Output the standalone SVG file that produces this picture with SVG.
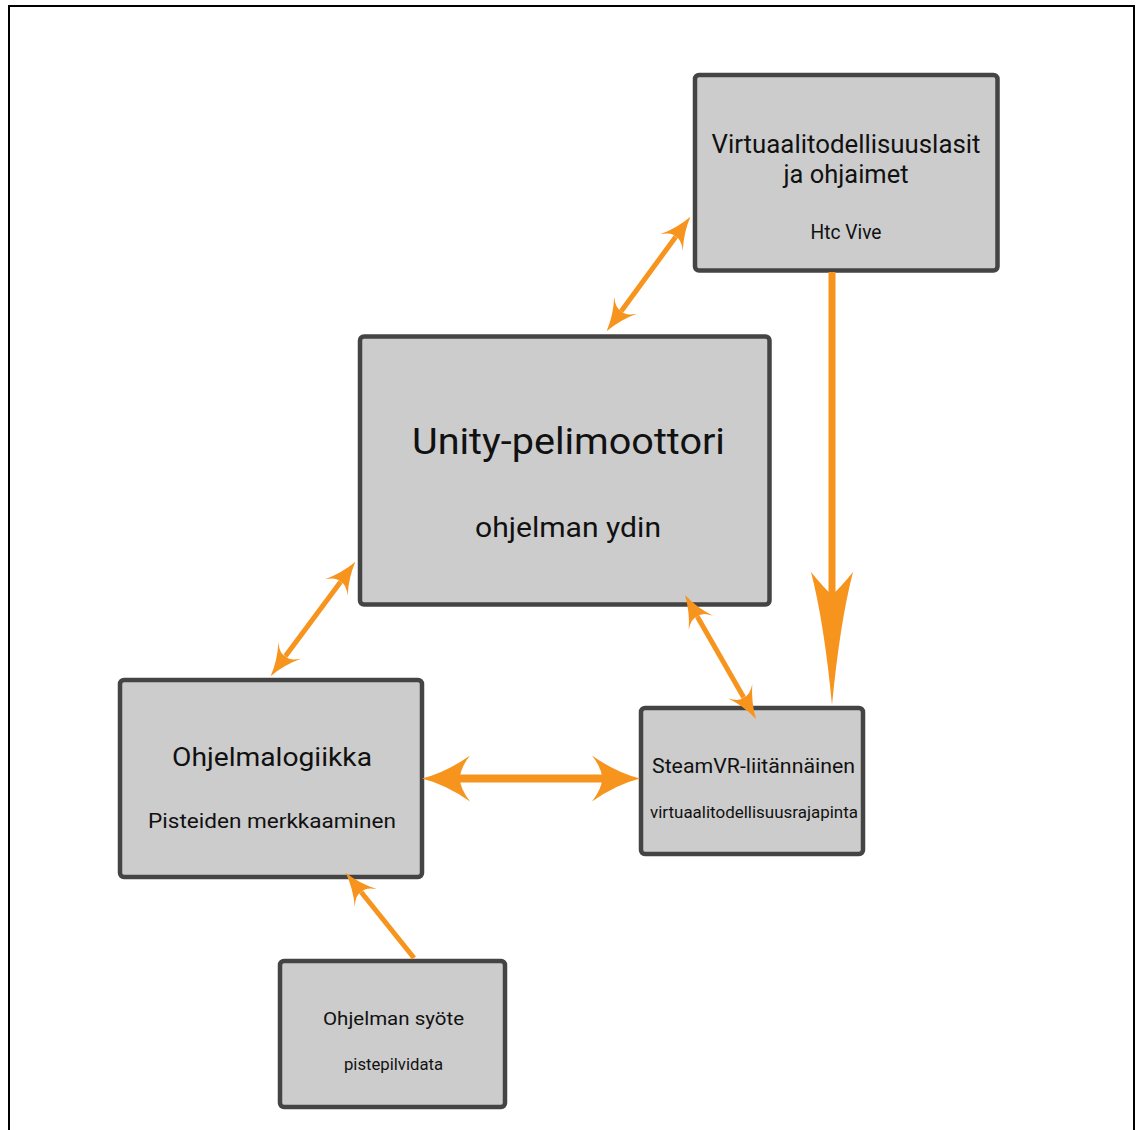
<svg xmlns="http://www.w3.org/2000/svg" width="1139" height="1130" viewBox="0 0 1139 1130">
<style>
.box{fill:#cccccc;stroke:#444444;stroke-width:4.5}
.t{font-family:Roboto,"Noto Sans","DejaVu Sans",sans-serif;fill:#111111;text-anchor:middle}
.c{stroke:#f7941d;fill:none}
</style>
<defs>
<marker id="sm" markerUnits="userSpaceOnUse" viewBox="-2 -16 36 32" markerWidth="36" markerHeight="32" refX="7" refY="0" orient="auto-start-reverse">
<path d="M32,0 Q15,-4 0,-14 Q9,-6 7,0 Q9,6 0,14 Q15,4 32,0 Z" fill="#f7941d"/>
</marker>
<marker id="md" markerUnits="userSpaceOnUse" viewBox="-2 -26 52 52" markerWidth="52" markerHeight="52" refX="10" refY="0" orient="auto-start-reverse">
<path d="M48,0 Q24,-6 0,-23 Q10,-10 10,0 Q10,10 0,23 Q24,6 48,0 Z" fill="#f7941d"/>
</marker>
<marker id="lg" markerUnits="userSpaceOnUse" viewBox="-2 -24 138 48" markerWidth="138" markerHeight="48" refX="23" refY="0" orient="auto">
<path d="M133,0 Q50,-8 0,-21 Q16,-8 23,0 Q16,8 0,21 Q50,8 133,0 Z" fill="#f7941d"/>
</marker>
</defs>
<rect width="1139" height="1130" fill="#ffffff"/>
<path d="M9,1132 V6 H1134 V1132" fill="none" stroke="#000000" stroke-width="2"/>
<g id="vr-glasses">
<rect class="box" x="695" y="75" width="302.5" height="195.5" rx="4"/>
<text class="t" x="846" y="153" font-size="25" textLength="269" lengthAdjust="spacingAndGlyphs">Virtuaalitodellisuuslasit</text>
<text class="t" x="846" y="183" font-size="25" textLength="125" lengthAdjust="spacingAndGlyphs">ja ohjaimet</text>
<text class="t" x="846" y="239" font-size="20" textLength="71" lengthAdjust="spacingAndGlyphs">Htc Vive</text>
</g>
<g id="unity">
<rect class="box" x="360" y="336.5" width="409.5" height="268" rx="4"/>
<text class="t" x="568.5" y="454" font-size="37" textLength="313" lengthAdjust="spacingAndGlyphs">Unity-pelimoottori</text>
<text class="t" x="568" y="537" font-size="28" textLength="186" lengthAdjust="spacingAndGlyphs">ohjelman ydin</text>
</g>
<g id="logic">
<rect class="box" x="120" y="680" width="302" height="197" rx="4"/>
<text class="t" x="272" y="766" font-size="26" textLength="200" lengthAdjust="spacingAndGlyphs">Ohjelmalogiikka</text>
<text class="t" x="272" y="828" font-size="21" textLength="248" lengthAdjust="spacingAndGlyphs">Pisteiden merkkaaminen</text>
</g>
<g id="steamvr">
<rect class="box" x="641" y="708" width="222" height="146" rx="4"/>
<text class="t" x="753.5" y="773" font-size="20" textLength="203" lengthAdjust="spacingAndGlyphs">SteamVR-liitännäinen</text>
<text class="t" x="754" y="818" font-size="16" textLength="208" lengthAdjust="spacingAndGlyphs">virtuaalitodellisuusrajapinta</text>
</g>
<g id="input">
<rect class="box" x="280" y="961" width="225" height="146" rx="4"/>
<text class="t" x="393.5" y="1025" font-size="19" textLength="141" lengthAdjust="spacingAndGlyphs">Ohjelman syöte</text>
<text class="t" x="393.5" y="1070" font-size="16" textLength="99" lengthAdjust="spacingAndGlyphs">pistepilvidata</text>
</g>
<g id="connectors">
<line class="c" x1="621.4" y1="311.0" x2="675.6" y2="237.0" stroke-width="5" marker-start="url(#sm)" marker-end="url(#sm)"/>
<line class="c" x1="285.5" y1="656.1" x2="340.5" y2="581.9" stroke-width="5" marker-start="url(#sm)" marker-end="url(#sm)"/>
<line class="c" x1="697.4" y1="616.7" x2="743.6" y2="697.3" stroke-width="5" marker-start="url(#sm)" marker-end="url(#sm)"/>
<line class="c" x1="414" y1="958" x2="361.3" y2="892.3" stroke-width="5" marker-end="url(#sm)"/>
<line class="c" x1="460" y1="778.5" x2="602" y2="778.5" stroke-width="8" marker-start="url(#md)" marker-end="url(#md)"/>
<line class="c" x1="832" y1="272" x2="832" y2="595" stroke-width="7" marker-end="url(#lg)"/>
</g>
</svg>
